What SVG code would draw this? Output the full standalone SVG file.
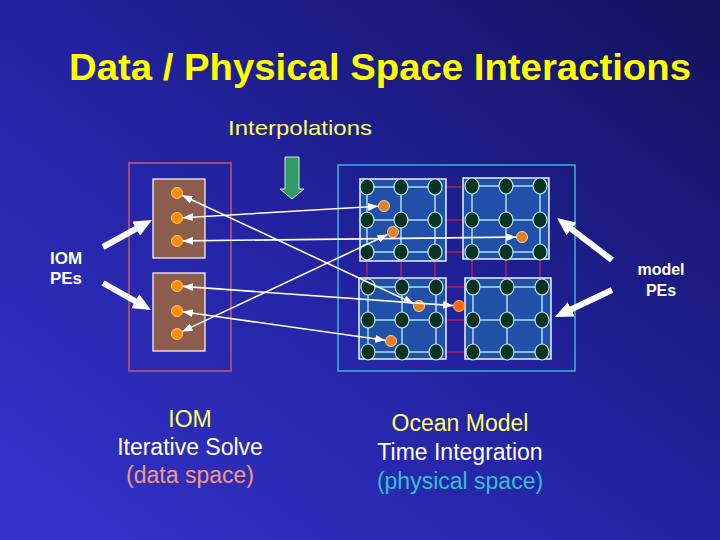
<svg xmlns="http://www.w3.org/2000/svg" width="720" height="540" viewBox="0 0 720 540">
<defs>
<linearGradient id="bg" x1="0" y1="1" x2="1" y2="0">
<stop offset="0" stop-color="#3434cc"/>
<stop offset="0.5" stop-color="#2222a0"/>
<stop offset="1" stop-color="#12125a"/>
</linearGradient>
<marker id="ah" markerUnits="userSpaceOnUse" markerWidth="10" markerHeight="8" refX="10" refY="4" orient="auto-start-reverse">
<path d="M0,0 L10,4 L0,8 z" fill="#ffffff"/>
</marker>
<marker id="big" markerUnits="userSpaceOnUse" markerWidth="18" markerHeight="16" refX="8" refY="8" orient="auto">
<path d="M0,0 L18,8 L0,16 z" fill="#ffffff"/>
</marker>
</defs>
<style>
.title{font-family:"Liberation Sans",Arial,sans-serif;font-weight:bold;fill:#ffff00}
.lbl{font-family:"Liberation Sans",Arial,sans-serif}
.blk{fill:#2050a8;stroke:#e8f4ff;stroke-width:1.5}
.grid{fill:none;stroke:#a8e0f0;stroke-width:1.5}
.red{fill:none;stroke:#b0205a;stroke-width:1.5}
.nd{fill:#0c3322;stroke:#b8ecf8;stroke-width:1.2}
.iod{fill:#ff8c00;stroke:#ffcc66;stroke-width:1}
.mod{fill:#e0802a;stroke:#ffd8a0;stroke-width:1}
.lnk{stroke:#ffffff;stroke-width:1.6;fill:none;marker-start:url(#ah);marker-end:url(#ah)}
.pe{stroke:#ffffff;stroke-width:6;fill:none;marker-end:url(#big)}
</style>
<rect x="0" y="0" width="720" height="540" fill="url(#bg)"/>

<text class="title" x="380" y="80" font-size="36" text-anchor="middle" textLength="622" lengthAdjust="spacingAndGlyphs">Data / Physical Space Interactions</text>
<text class="lbl" x="300" y="135" font-size="21" fill="#ffff66" text-anchor="middle" textLength="144" lengthAdjust="spacingAndGlyphs">Interpolations</text>

<g id="interp-arrow">
<polygon points="285,157 299,157 299,189 304,189 292,199 280,189 285,189" fill="#339966" stroke="#c8f0c8" stroke-width="1"/>
</g>

<g id="iom-space">
<rect x="129" y="163" width="102" height="208" fill="none" stroke="#cc5566" stroke-width="1.5"/>
<g id="iom-pe1">
<rect x="153" y="179" width="52" height="79" fill="#8c5c4c" stroke="#ffffff" stroke-width="1.2"/>
<circle class="iod" cx="177" cy="193" r="5.5"/>
<circle class="iod" cx="177" cy="218" r="5.5"/>
<circle class="iod" cx="177" cy="241" r="5.5"/>
</g>
<g id="iom-pe2">
<rect x="153" y="273" width="52" height="78" fill="#8c5c4c" stroke="#ffffff" stroke-width="1.2"/>
<circle class="iod" cx="177" cy="286" r="5.5"/>
<circle class="iod" cx="177" cy="311" r="5.5"/>
<circle class="iod" cx="177" cy="334" r="5.5"/>
</g>
</g>

<g id="model-space">
<rect x="338" y="165" width="237" height="206" fill="none" stroke="#33b8d8" stroke-width="1.5"/>
<path class="red" d="M446,187H463M446,220H463M446,252H463M446,287H465M446,320H465M446,352H465M367,261V278M401,261V278M435,261V278M472,259V278M506,259V278M540,259V278"/>
<g id="block-tl">
<rect class="blk" x="360" y="179" width="86" height="82"/>
<path class="grid" d="M367,187H435M367,220H435M367,252H435M367,187V252M401,187V252M435,187V252"/>
<ellipse class="nd" cx="367" cy="187" rx="7" ry="8"/><ellipse class="nd" cx="401" cy="187" rx="7" ry="8"/><ellipse class="nd" cx="435" cy="187" rx="7" ry="8"/>
<ellipse class="nd" cx="367" cy="220" rx="7" ry="8"/><ellipse class="nd" cx="401" cy="220" rx="7" ry="8"/><ellipse class="nd" cx="435" cy="220" rx="7" ry="8"/>
<ellipse class="nd" cx="367" cy="252" rx="7" ry="8"/><ellipse class="nd" cx="401" cy="252" rx="7" ry="8"/><ellipse class="nd" cx="435" cy="252" rx="7" ry="8"/>
</g>
<g id="block-tr">
<rect class="blk" x="463" y="178" width="86" height="81"/>
<path class="grid" d="M472,186H540M472,220H540M472,252H540M472,186V252M506,186V252M540,186V252"/>
<ellipse class="nd" cx="472" cy="186" rx="7" ry="8"/><ellipse class="nd" cx="506" cy="186" rx="7" ry="8"/><ellipse class="nd" cx="540" cy="186" rx="7" ry="8"/>
<ellipse class="nd" cx="472" cy="220" rx="7" ry="8"/><ellipse class="nd" cx="506" cy="220" rx="7" ry="8"/><ellipse class="nd" cx="540" cy="220" rx="7" ry="8"/>
<ellipse class="nd" cx="472" cy="252" rx="7" ry="8"/><ellipse class="nd" cx="506" cy="252" rx="7" ry="8"/><ellipse class="nd" cx="540" cy="252" rx="7" ry="8"/>
</g>
<g id="block-bl">
<rect class="blk" x="359" y="278" width="87" height="81"/>
<path class="grid" d="M368,287H436M368,320H436M368,352H436M368,287V352M402,287V352M436,287V352"/>
<ellipse class="nd" cx="368" cy="287" rx="7" ry="8"/><ellipse class="nd" cx="402" cy="287" rx="7" ry="8"/><ellipse class="nd" cx="436" cy="287" rx="7" ry="8"/>
<ellipse class="nd" cx="368" cy="320" rx="7" ry="8"/><ellipse class="nd" cx="402" cy="320" rx="7" ry="8"/><ellipse class="nd" cx="436" cy="320" rx="7" ry="8"/>
<ellipse class="nd" cx="368" cy="352" rx="7" ry="8"/><ellipse class="nd" cx="402" cy="352" rx="7" ry="8"/><ellipse class="nd" cx="436" cy="352" rx="7" ry="8"/>
</g>
<g id="block-br">
<rect class="blk" x="465" y="278" width="86" height="81"/>
<path class="grid" d="M473,287H542M473,320H542M473,352H542M473,287V352M507,287V352M542,287V352"/>
<ellipse class="nd" cx="473" cy="287" rx="7" ry="8"/><ellipse class="nd" cx="507" cy="287" rx="7" ry="8"/><ellipse class="nd" cx="542" cy="287" rx="7" ry="8"/>
<ellipse class="nd" cx="473" cy="320" rx="7" ry="8"/><ellipse class="nd" cx="507" cy="320" rx="7" ry="8"/><ellipse class="nd" cx="542" cy="320" rx="7" ry="8"/>
<ellipse class="nd" cx="473" cy="352" rx="7" ry="8"/><ellipse class="nd" cx="507" cy="352" rx="7" ry="8"/><ellipse class="nd" cx="542" cy="352" rx="7" ry="8"/>
</g>
<g id="model-points">
<circle class="mod" cx="384" cy="206" r="5.5"/>
<circle class="mod" cx="393" cy="232" r="5.5"/>
<circle class="mod" cx="522" cy="237" r="5.5"/>
<circle class="mod" cx="419" cy="306" r="5.5"/>
<circle cx="459" cy="306" r="5.5" fill="#ff6600" stroke="#ffb070" stroke-width="1"/>
<circle class="mod" cx="391" cy="341" r="5.5"/>
</g>
</g>

<g id="connectors">
<line class="lnk" x1="182.4" y1="195.5" x2="413.6" y2="303.5"/>
<line class="lnk" x1="182.4" y1="331.4" x2="387.6" y2="234.6"/>
<line class="lnk" x1="183" y1="286.4" x2="453" y2="305.6"/>
<line class="lnk" x1="182.9" y1="311.8" x2="385.1" y2="340.2"/>
<line class="lnk" x1="183" y1="217.7" x2="378" y2="206.3"/>
<line class="lnk" x1="183" y1="240.9" x2="516" y2="237.1"/>
<line class="pe" x1="103" y1="247" x2="143.2" y2="224.8"/>
<line class="pe" x1="103" y1="283" x2="142.3" y2="305.1"/>
<line class="pe" x1="612" y1="260" x2="565" y2="224.1"/>
<line class="pe" x1="612" y1="290" x2="564" y2="312.7"/>
</g>

<g id="labels">
<text class="lbl" x="66" y="264" font-size="17" font-weight="bold" fill="#ffffff" text-anchor="middle">IOM</text>
<text class="lbl" x="66" y="284" font-size="17" font-weight="bold" fill="#ffffff" text-anchor="middle">PEs</text>
<text class="lbl" x="661" y="275" font-size="16" font-weight="bold" fill="#ffffff" text-anchor="middle">model</text>
<text class="lbl" x="661" y="296" font-size="16" font-weight="bold" fill="#ffffff" text-anchor="middle">PEs</text>
<text class="lbl" x="190" y="427" font-size="23" fill="#ffff66" text-anchor="middle">IOM</text>
<text class="lbl" x="190" y="455" font-size="23" fill="#ffffff" text-anchor="middle">Iterative Solve</text>
<text class="lbl" x="190" y="483" font-size="23" fill="#f09a80" text-anchor="middle">(data space)</text>
<text class="lbl" x="460" y="431" font-size="23" fill="#ffff66" text-anchor="middle">Ocean Model</text>
<text class="lbl" x="460" y="460" font-size="23" fill="#ffffff" text-anchor="middle">Time Integration</text>
<text class="lbl" x="460" y="489" font-size="23" fill="#33c0d0" text-anchor="middle">(physical space)</text>
</g>
</svg>
